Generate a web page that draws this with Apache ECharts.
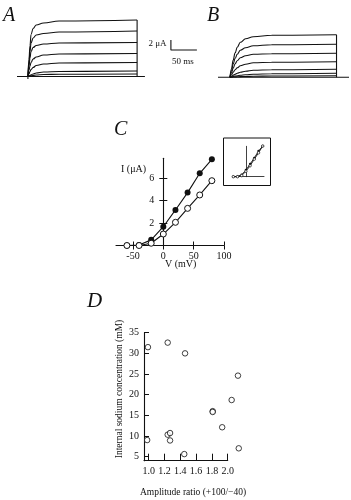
<!DOCTYPE html>
<html>
<head>
<meta charset="utf-8">
<script src="https://cdn.jsdelivr.net/npm/echarts@6/dist/echarts.min.js"></script>
<style>
html, body { margin: 0; padding: 0; background: #fff; }
#chart { width: 351px; height: 500px; }
</style>
</head>
<body>
<div id="chart"></div>
<script>
var serif = "'Liberation Serif', 'DejaVu Serif', serif";
var ink = '#111';

// panel A: current traces (time in ms, current in uA)
var tA = [0, 2, 4, 6, 10, 16, 30, 60, 210];
var tracesA = [
    [0, 3.4, 6.2, 8.4, 9.6, 10.3, 10.7, 11.1, 11.3],
    [0, 2.7, 5.0, 6.7, 7.7, 8.3, 8.6, 8.9, 9.1],
    [0, 2.0, 3.7, 5.0, 5.8, 6.2, 6.5, 6.7, 6.8],
    [0, 1.2, 2.1, 2.8, 3.5, 3.9, 4.3, 4.5, 4.6],
    [0, 0.5, 1.0, 1.4, 1.8, 2.2, 2.5, 2.7, 2.8],
    [0, 0.1, 0.2, 0.35, 0.5, 0.7, 0.9, 1.0, 1.1],
    [0, 0.05, 0.1, 0.15, 0.2, 0.3, 0.4, 0.45, 0.5]
];
var endA = 210;
var baseA = [-21, 225];

// panel B
var tB = [0, 3, 6, 10, 14, 20, 30, 45, 80, 205];
var tracesB = [
    [0, 1.7, 3.4, 4.9, 6.0, 7.0, 7.7, 8.1, 8.4, 8.5],
    [0, 1.3, 2.6, 3.8, 4.6, 5.4, 5.9, 6.3, 6.5, 6.6],
    [0, 0.9, 1.8, 2.7, 3.3, 3.9, 4.3, 4.6, 4.7, 4.8],
    [0, 0.5, 1.0, 1.5, 1.9, 2.3, 2.6, 2.9, 3.0, 3.1],
    [0, 0.2, 0.4, 0.6, 0.8, 1.0, 1.2, 1.4, 1.5, 1.6],
    [0, 0.1, 0.15, 0.25, 0.3, 0.4, 0.5, 0.6, 0.7, 0.8],
    [0, 0.02, 0.05, 0.08, 0.1, 0.13, 0.17, 0.21, 0.26, 0.3]
];
var endB = 205;
var baseB = [-23, 229];

// scale bar: 2 uA by 50 ms
var barT = [275, 275, 325];
var barI = [7.3, 5.3, 5.3];

// panel C: I-V
var volts = [-60, -40, -20, 0, 20, 40, 60, 80];
var filledI = [0, 0.05, 0.5, 1.67, 3.16, 4.7, 6.42, 7.66];
var openI = [0, 0, 0.2, 1.02, 2.06, 3.3, 4.49, 5.76];
var insetOpen = [0, 0, 0.27, 1.36, 2.74, 4.39, 5.97, 7.66];
var vTicks = [-50, 0, 50, 100];
var iTicks = [2, 4, 6];

// panel D
var ratio = [0.99, 0.98, 1.24, 1.46, 1.24, 1.27, 1.27, 1.45, 1.81, 1.81, 1.93, 2.05, 2.13, 2.14];
var sodium = [31.5, 9.0, 32.6, 30.0, 10.3, 10.7, 8.9, 5.6, 16.0, 15.8, 12.1, 18.7, 24.6, 7.0];
var ratioTicks = [1.0, 1.2, 1.4, 1.6, 1.8, 2.0];
var naTicks = [5, 10, 15, 20, 25, 30, 35];

function pairs(xs, ys){
    var out = [];
    for(var i = 0; i < xs.length; i++){
        out.push([xs[i], ys[i]]);
    }
    return out;
}

var series = [];

function traceSeries(ts, list, idx){
    for(var k = 0; k < list.length; k++){
        series.push({
            type: 'line', xAxisIndex: idx, yAxisIndex: idx,
            data: pairs(ts, list[k]),
            smooth: 0.4, smoothMonotone: 'x',
            showSymbol: false, symbol: 'none',
            lineStyle: { color: ink, width: 1.1 }
        });
    }
}
traceSeries(tA, tracesA, 0);
traceSeries(tB, tracesB, 1);

function plainLine(idx, data){
    series.push({
        type: 'line', xAxisIndex: idx, yAxisIndex: idx, data: data,
        symbol: 'none', lineStyle: { color: ink, width: 1.1 }
    });
}
plainLine(0, [[baseA[0], 0], [baseA[1], 0]]);
plainLine(0, [[endA, 0], [endA, tracesA[0][tracesA[0].length - 1]]]);
plainLine(0, [[0, 0], [0, -0.5]]);
plainLine(0, pairs(barT, barI));
plainLine(1, [[baseB[0], 0], [baseB[1], 0]]);
plainLine(1, [[endB, 0], [endB, tracesB[0][tracesB[0].length - 1]]]);

// C
series.push({
    type: 'line', xAxisIndex: 2, yAxisIndex: 2, data: pairs(volts, filledI),
    symbol: 'circle', symbolSize: 6, clip: false,
    itemStyle: { color: ink },
    lineStyle: { color: ink, width: 1.1 }, z: 3
});
series.push({
    type: 'line', xAxisIndex: 2, yAxisIndex: 2, data: pairs(volts, openI),
    symbol: 'circle', symbolSize: 6, clip: false,
    itemStyle: { color: '#fff', borderColor: ink, borderWidth: 1 },
    lineStyle: { color: ink, width: 1.1 }, z: 4
});
// inset
series.push({
    type: 'line', xAxisIndex: 4, yAxisIndex: 4, data: pairs(volts, filledI),
    symbol: 'circle', symbolSize: 2.5, clip: false,
    itemStyle: { color: ink }, lineStyle: { color: ink, width: 0.9 }
});
series.push({
    type: 'line', xAxisIndex: 4, yAxisIndex: 4, data: pairs(volts, insetOpen),
    symbol: 'circle', symbolSize: 2.5, clip: false,
    itemStyle: { color: '#fff', borderColor: ink, borderWidth: 0.7 }, lineStyle: { color: ink, width: 0.9 }
});
// D
series.push({
    type: 'scatter', xAxisIndex: 5, yAxisIndex: 5, data: pairs(ratio, sodium),
    symbol: 'circle', symbolSize: 5.5, clip: false,
    itemStyle: { color: '#fff', borderColor: ink, borderWidth: 1 }
});

var hidden = { show: false, type: 'value' };
var labelFont = { fontFamily: serif, fontSize: 10, color: ink };

// grid C spans -78..100 mV over 108 px, so 0 mV sits 47.3 px from its left edge
var gridC = { left: 116, top: 158.3, width: 108, height: 87.2 };
var zeroOffset = 78 / 178 * gridC.width;

var option = {
    animation: false,
    backgroundColor: '#fff',
    grid: [
        { left: 17, top: 16.5, width: 190.3, height: 65 },
        { left: 218, top: 17.3, width: 131, height: 65 },
        gridC,
        { left: 233.3, top: 146.3, width: 30.7, height: 30.4 },
        { left: 144, top: 332.7, width: 83.7, height: 128 }
    ],
    xAxis: [
        Object.assign({ gridIndex: 0, min: -21, max: 345 }, hidden),
        Object.assign({ gridIndex: 1, min: -23, max: 229 }, hidden),
        {
            type: 'value', gridIndex: 2, min: -78, max: 100, position: 'bottom',
            splitLine: { show: false },
            axisLine: { onZero: false, lineStyle: { color: ink, width: 1.1 } },
            axisTick: { customValues: vTicks, length: 4, lineStyle: { color: ink } },
            axisLabel: Object.assign({ customValues: vTicks, margin: 6 }, labelFont)
        },
        {
            type: 'value', gridIndex: 2, min: -78, max: 100, position: 'top',
            offset: -gridC.height,
            splitLine: { show: false },
            axisLine: { show: false, onZero: false },
            axisTick: { customValues: vTicks, length: 4, lineStyle: { color: ink } },
            axisLabel: { show: false }
        },
        {
            type: 'value', gridIndex: 3, min: -60, max: 86,
            splitLine: { show: false },
            axisLine: { onZero: true, lineStyle: { color: ink, width: 0.8 } },
            axisTick: { show: false }, axisLabel: { show: false }
        },
        {
            type: 'value', gridIndex: 4, min: 0.94, max: 2.0,
            splitLine: { show: false },
            axisLine: { onZero: false, lineStyle: { color: ink, width: 1.1 } },
            axisTick: { customValues: ratioTicks, inside: true, length: 7, lineStyle: { color: ink } },
            axisLabel: Object.assign({
                customValues: ratioTicks, margin: 6,
                formatter: function(v){ return v.toFixed(1); }
            }, labelFont)
        }
    ],
    yAxis: [
        Object.assign({ gridIndex: 0, min: -1, max: 12 }, hidden),
        Object.assign({ gridIndex: 1, min: -1, max: 12 }, hidden),
        {
            type: 'value', gridIndex: 2, min: 0, max: 7.75, position: 'left',
            offset: -zeroOffset,
            splitLine: { show: false },
            axisLine: { onZero: false, lineStyle: { color: ink, width: 1.1 } },
            axisTick: { customValues: iTicks, length: 4, lineStyle: { color: ink } },
            axisLabel: Object.assign({ customValues: iTicks, margin: 9 }, labelFont)
        },
        {
            type: 'value', gridIndex: 2, min: 0, max: 7.75, position: 'right',
            offset: -(gridC.width - zeroOffset),
            splitLine: { show: false },
            axisLine: { show: false, onZero: false },
            axisTick: { customValues: iTicks, length: 4, lineStyle: { color: ink } },
            axisLabel: { show: false }
        },
        {
            type: 'value', gridIndex: 3, min: 0, max: 7.6,
            splitLine: { show: false },
            axisLine: { onZero: true, lineStyle: { color: ink, width: 0.8 } },
            axisTick: { show: false }, axisLabel: { show: false }
        },
        {
            type: 'value', gridIndex: 4, min: 4, max: 35,
            splitLine: { show: false },
            axisLine: { onZero: false, lineStyle: { color: ink, width: 1.1 } },
            axisTick: { customValues: naTicks, inside: true, length: 5, lineStyle: { color: ink } },
            axisLabel: Object.assign({ customValues: naTicks, margin: 5 }, labelFont)
        }
    ],
    graphic: [
        { type: 'text', x: 3, y: 16, style: { text: 'A', font: 'italic 20px ' + serif, fill: ink, textVerticalAlign: 'middle' } },
        { type: 'text', x: 207, y: 16, style: { text: 'B', font: 'italic 20px ' + serif, fill: ink, textVerticalAlign: 'middle' } },
        { type: 'text', x: 114, y: 129.5, style: { text: 'C', font: 'italic 20px ' + serif, fill: ink, textVerticalAlign: 'middle' } },
        { type: 'text', x: 87, y: 301, style: { text: 'D', font: 'italic 21px ' + serif, fill: ink, textVerticalAlign: 'middle' } },
        { type: 'text', x: 166.5, y: 44, style: { text: '2 μA', font: '9px ' + serif, fill: ink, textAlign: 'right', textVerticalAlign: 'middle' } },
        { type: 'text', x: 172, y: 61.5, style: { text: '50 ms', font: '9px ' + serif, fill: ink, textVerticalAlign: 'middle' } },
        { type: 'text', x: 121, y: 169.5, style: { text: 'I (μA)', font: '10px ' + serif, fill: ink, textVerticalAlign: 'middle' } },
        { type: 'text', x: 165, y: 264, style: { text: 'V (mV)', font: '10px ' + serif, fill: ink, textVerticalAlign: 'middle' } },
        { type: 'rect', shape: { x: 223.5, y: 138, width: 47, height: 47.5 }, style: { fill: 'none', stroke: ink, lineWidth: 1 } },
        { type: 'text', x: 119, y: 389, rotation: Math.PI / 2, style: { text: 'Internal sodium concentration (mM)', font: '9.5px ' + serif, fill: ink, textAlign: 'center', textVerticalAlign: 'middle' } },
        { type: 'text', x: 193, y: 492, style: { text: 'Amplitude ratio (+100/−40)', font: '9.5px ' + serif, fill: ink, textAlign: 'center', textVerticalAlign: 'middle' } }
    ],
    series: series
};

var myChart = echarts.init(document.getElementById('chart'), null, { renderer: 'canvas' });
myChart.setOption(option);
</script>
</body>
</html>
